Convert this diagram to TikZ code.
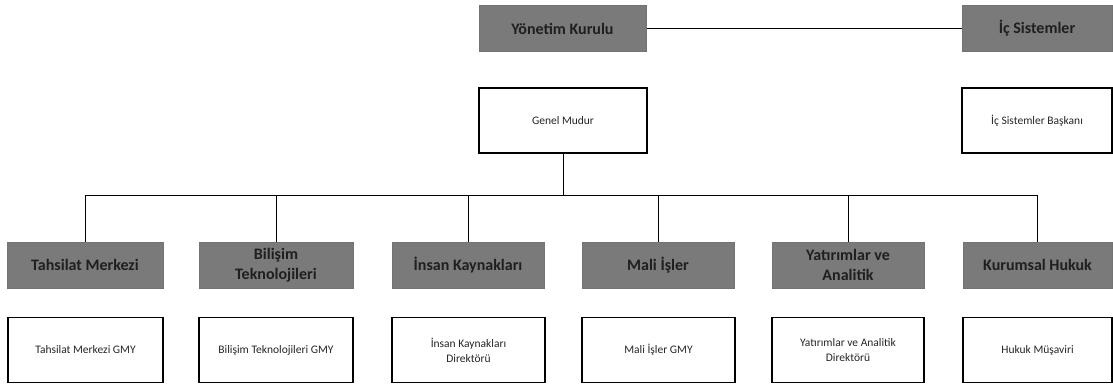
\documentclass[tikz,border=0pt]{standalone}
\usepackage{fontspec}
\setmainfont{Carlito}
\begin{document}
\begin{tikzpicture}[x=1pt,y=-1pt,
  graybox/.style={draw=black!55, line width=1pt, fill=black!52, text=black!88, font=\fontsize{16}{20}\selectfont\bfseries, align=center, inner sep=2pt, minimum height=46pt},
  whitebox/.style={draw=black, line width=1.1pt, fill=white, text=black!85, font=\fontsize{11.5}{15}\selectfont, align=center, inner sep=2pt, minimum height=65pt},
  conn/.style={draw=black, line width=1pt}]
\useasboundingbox (0,0) rectangle (1113,386);
\node[graybox, minimum width=167pt] (yk) at (562.5,28.5) {Yönetim Kurulu};
\node[graybox, minimum width=150pt] (ic) at (1037,28.5) {İç Sistemler};
\node[whitebox, minimum width=168pt] (gm) at (563,120.5) {Genel Mudur};
\node[whitebox, minimum width=150pt] (isb) at (1037,120.5) {İç Sistemler Başkanı};
\coordinate (bus) at (0,195);
\node[graybox, minimum width=156pt] (tm) at (85,265) {Tahsilat Merkezi};
\node[graybox, minimum width=154pt] (bt) at (276,265) {Bilişim\\Teknolojileri};
\node[graybox, minimum width=152pt] (ik) at (468,265) {İnsan Kaynakları};
\node[graybox, minimum width=152pt] (mi) at (658,265) {Mali İşler};
\node[graybox, minimum width=152pt] (ya) at (848,265) {Yatırımlar ve\\Analitik};
\node[graybox, minimum width=149pt] (kh) at (1037.5,265) {Kurumsal Hukuk};
\node[whitebox, minimum width=155pt] (tmg) at (85.5,350) {Tahsilat Merkezi GMY};
\node[whitebox, minimum width=154pt] (btg) at (276,350) {Bilişim Teknolojileri GMY};
\node[whitebox, minimum width=153pt] (ikd) at (468.5,350) {İnsan Kaynakları\\Direktörü};
\node[whitebox, minimum width=153pt] (mig) at (658.5,350) {Mali İşler GMY};
\node[whitebox, minimum width=152pt] (yad) at (848,350) {Yatırımlar ve Analitik\\Direktörü};
\node[whitebox, minimum width=149pt] (hm) at (1037.5,350) {Hukuk Müşaviri};
\draw[conn] (yk.east) -- (ic.west);
\draw[conn] (gm.south) -- (gm.south |- bus);
\draw[conn] (tm.north) -- (tm.north |- bus) -- (kh.north |- bus) -- (kh.north);
\foreach \n in {bt,ik,mi,ya} \draw[conn] (\n.north) -- (\n.north |- bus);
\end{tikzpicture}
\end{document}
